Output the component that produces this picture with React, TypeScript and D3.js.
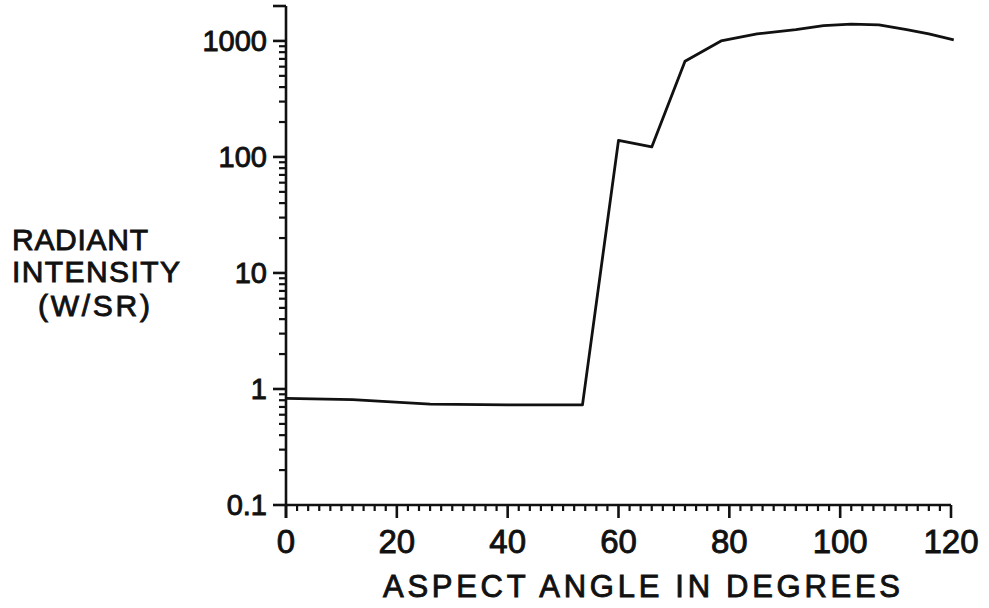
import React from "react";
import * as d3 from "d3";

const angles = [0, 12, 26, 40, 53.5, 60, 66, 72, 78.5, 85, 92, 97, 102, 107, 112, 116, 120.5];
const intensity = [0.83, 0.81, 0.74, 0.73, 0.73, 139, 122, 667, 1000, 1150, 1250, 1357, 1395, 1375, 1250, 1150, 1020];
const xTicks = [0, 20, 40, 60, 80, 100, 120];
const yTicks = [0.1, 1, 10, 100, 1000];
const yTickLabels = ["0.1", "1", "10", "100", "1000"];
const yLabelLines = ["RADIANT", "INTENSITY", "(W/SR)"];
const xTitle = "ASPECT ANGLE IN DEGREES";

const W = 989;
const H = 608;
const FONT = "'Liberation Sans', Arial, sans-serif";
const INK = "#111";

export default function App() {
  const x = d3.scaleLinear().domain([0, 120]).range([286, 951]);
  const y = d3.scaleLog().domain([0.1, 2000]).range([505, 6]);
  const x0 = x(0);
  const yb = y(0.1);

  const minorY: number[] = [];
  for (const dec of [0.1, 1, 10, 100, 1000]) {
    for (let k = 2; k <= 9; k++) {
      const v = dec * k;
      if (v < 2000) minorY.push(v);
    }
  }
  const minorX: number[] = [];
  for (let v = 2; v < 120; v += 2) if (v % 20 !== 0) minorX.push(v);

  const line = d3
    .line<number>()
    .x((_, i) => x(angles[i]))
    .y((d) => y(d));

  const textStyle = { fontFamily: FONT, fill: INK, stroke: INK, strokeWidth: 0.9 };

  return (
    <svg width={W} height={H} style={{ position: "absolute", left: 0, top: 0, background: "#fff" }}>
      <rect width={W} height={H} fill="#fff" />
      {/* axes */}
      <line x1={x0} x2={x0} y1={y(2000)} y2={yb + 13} stroke={INK} strokeWidth={2.6} />
      <line x1={x0 - 1} x2={x(120)} y1={yb} y2={yb} stroke={INK} strokeWidth={2.6} />
      {/* y ticks */}
      {yTicks.concat([2000]).map((v) => (
        <line key={"ym" + v} x1={x0 - 13} x2={x0} y1={y(v)} y2={y(v)} stroke={INK} strokeWidth={2.6} />
      ))}
      {minorY.map((v) => (
        <line key={"yn" + v} x1={x0 - 7} x2={x0} y1={y(v)} y2={y(v)} stroke={INK} strokeWidth={2.2} />
      ))}
      {/* x ticks */}
      {xTicks.map((v) => (
        <line key={"xm" + v} x1={x(v)} x2={x(v)} y1={yb} y2={yb + 13} stroke={INK} strokeWidth={2.6} />
      ))}
      {minorX.map((v) => (
        <line key={"xn" + v} x1={x(v)} x2={x(v)} y1={yb} y2={yb + 6} stroke={INK} strokeWidth={2.2} />
      ))}
      {/* tick labels */}
      {yTicks.map((v, i) => (
        <text key={"yl" + v} x={x0 - 19} y={y(v) + 10} textAnchor="end" fontSize={29} {...textStyle}>
          {yTickLabels[i]}
        </text>
      ))}
      {xTicks.map((v) => (
        <text key={"xl" + v} x={x(v)} y={553} textAnchor="middle" fontSize={33} {...textStyle}>
          {v}
        </text>
      ))}
      {/* y label */}
      {yLabelLines.map((t, i) => (
        <text
          key={t}
          x={[12, 12, 38][i]}
          y={[250, 282, 316][i]}
          fontSize={30}
          textLength={[136, 168, 112][i]}
          lengthAdjust="spacing"
          {...textStyle}
        >
          {t}
        </text>
      ))}
      <text x={383} y={597} fontSize={31} textLength={517} lengthAdjust="spacing" {...textStyle}>
        {xTitle}
      </text>
      {/* data line */}
      <path d={line(intensity) || ""} fill="none" stroke={INK} strokeWidth={2.8} strokeLinejoin="round" />
    </svg>
  );
}
